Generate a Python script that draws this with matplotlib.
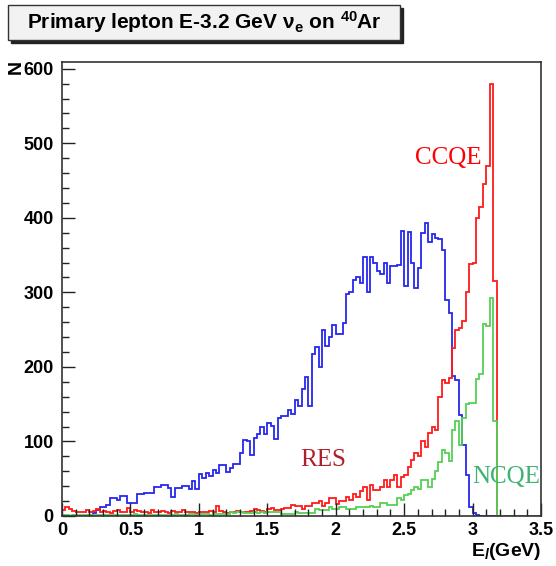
import numpy as np
import matplotlib
matplotlib.use("Agg")
import matplotlib.pyplot as plt
from matplotlib.patches import Rectangle

plt.rcParams['font.family'] = ['Liberation Sans', 'DejaVu Sans']
plt.rcParams['mathtext.fontset'] = 'custom'
plt.rcParams['mathtext.rm'] = 'Liberation Sans:bold'
plt.rcParams['mathtext.it'] = 'Liberation Sans:bold:italic'
plt.rcParams['mathtext.bf'] = 'Liberation Sans:bold'

# histogram range and bins (E_l in GeV)
e_min, e_max, n_bins = 0.0, 3.5, 140

# counts per bin
res = [0, 0, 0, 0, 0, 0, 0, 0, 1, 4,
       8, 12, 12, 15, 24, 24, 21, 27, 27, 18,
       18, 18, 30, 30, 31, 31, 31, 39, 39, 42,
       42, 37, 26, 37, 37, 40, 40, 36, 47, 36,
       57, 51, 58, 54, 62, 58, 69, 69, 59, 65,
       70, 70, 84, 102, 100, 82, 105, 110, 120, 110,
       125, 121, 103, 131, 134, 134, 142, 137, 155, 148,
       170, 186, 148, 217, 227, 200, 249, 228, 240, 256,
       244, 244, 259, 298, 300, 316, 321, 313, 347, 301,
       348, 340, 328, 324, 340, 312, 335, 335, 337, 382,
       309, 381, 339, 306, 333, 380, 393, 368, 378, 373,
       371, 357, 290, 272, 188, 183, 135, 95, 55, 12,
       4, 1, 0, 0, 0, 0, 0, 0, 0, 0,
       0, 0, 0, 0, 0, 0, 0, 0, 0, 0]

ccqe = [8, 12, 10, 7, 6, 6, 5, 8, 6, 7,
        10, 6, 7, 5, 4, 7, 8, 6, 5, 11,
        6, 8, 7, 6, 5, 4, 8, 6, 5, 7,
        6, 4, 7, 5, 5, 8, 6, 5, 6, 4,
        6, 5, 6, 7, 6, 14, 7, 5, 4, 5,
        6, 7, 5, 6, 6, 7, 10, 8, 7, 6,
        9, 11, 8, 8, 10, 11, 11, 15, 13, 14,
        10, 13, 13, 17, 17, 20, 14, 17, 24, 24,
        16, 20, 20, 26, 22, 30, 26, 33, 39, 21,
        41, 35, 35, 39, 48, 39, 48, 55, 39, 52,
        55, 66, 75, 85, 80, 100, 92, 112, 120, 115,
        160, 183, 178, 185, 226, 250, 252, 262, 300, 338,
        340, 400, 415, 446, 470, 580, 315, 0, 0, 0,
        0, 0, 0, 0, 0, 0, 0, 0, 0, 0]

ncqe = [1, 1, 0, 1, 1, 1, 1, 1, 1, 1,
        1, 1, 1, 2, 1, 1, 1, 1, 2, 2,
        2, 3, 2, 2, 1, 2, 2, 2, 2, 2,
        2, 2, 2, 3, 2, 2, 2, 3, 3, 2,
        3, 3, 3, 2, 3, 3, 3, 3, 3, 6,
        4, 6, 5, 4, 4, 4, 5, 4, 6, 4,
        5, 6, 5, 6, 3, 3, 3, 3, 5, 4,
        4, 4, 4, 4, 10, 8, 8, 8, 12, 10,
        10, 12, 12, 10, 10, 10, 12, 12, 12, 12,
        14, 12, 12, 17, 17, 15, 15, 15, 24, 22,
        28, 30, 35, 39, 36, 48, 48, 39, 50, 61,
        72, 88, 84, 74, 115, 128, 95, 132, 150, 152,
        152, 184, 190, 257, 255, 292, 128, 0, 0, 0,
        0, 0, 0, 0, 0, 0, 0, 0, 0, 0]

edges = np.linspace(e_min, e_max, n_bins + 1)

fig = plt.figure(figsize=(5.56, 5.66), dpi=100)
ax = fig.add_axes([62/556, 1 - 516/566, 479/556, 454/566])

ax.stairs(res, edges, baseline=0, color='#2626ee', lw=1.3)
ax.stairs(ccqe, edges, baseline=0, color='#ff1a1a', lw=1.3)
ax.stairs(ncqe, edges, baseline=0, color='#55d055', lw=1.3)

ax.set_xlim(e_min, e_max)
ax.set_ylim(0, max(ccqe) * 1.05)
ax.set_xticks(np.arange(0, 3.51, 0.5))
ax.set_xticks(np.arange(0, 3.51, 0.1), minor=True)
ax.set_yticks(np.arange(0, 601, 100))
ax.set_yticks(np.arange(0, 601, 20), minor=True)
ax.set_xticklabels(['0', '0.5', '1', '1.5', '2', '2.5', '3', '3.5'])
ax.tick_params(which='both', direction='in', width=1, colors='#222222')
ax.tick_params(which='major', length=9.5)
ax.tick_params(which='minor', length=4.8)
ax.tick_params(axis='x', pad=4)
ax.tick_params(axis='y', pad=6)
for lab in ax.get_xticklabels() + ax.get_yticklabels():
    lab.set_fontsize(13)
    lab.set_fontweight('bold')
    lab.set_color('black')
for s in ax.spines.values():
    s.set_linewidth(1.2)
    s.set_color('#333333')

# axis titles, ROOT style
fig.text(541/556, 1 - 552/566, r'E$_{l}$(GeV)', ha='right', va='center',
         fontsize=14, fontweight='bold')
fig.text(16/556, 1 - 60/566, 'N', ha='center', va='top', rotation=90,
         fontsize=14, fontweight='bold')

# channel labels
ax.text(2.58, 480, 'CCQE', color='#ff0000', fontsize=18,
        family='Liberation Serif', va='center', ha='left')
ax.text(1.74, 75, 'RES', color='#b0202a', fontsize=18,
        family='Liberation Serif', va='center', ha='left')
ax.text(3.0, 52, 'NCQE', color='#3cb371', fontsize=18,
        family='Liberation Serif', va='center', ha='left', clip_on=False)

# title box with drop shadow
bx, by, bw, bh = 8/556, 1 - 40/566, 392/556, 35/566
fig.patches.append(Rectangle((bx + 3/556, by - 3/566), bw, bh,
                             transform=fig.transFigure, color='#222222', zorder=1))
fig.patches.append(Rectangle((bx, by), bw, bh, transform=fig.transFigure,
                             facecolor='#f2f2f2', edgecolor='#333333', lw=1, zorder=2))
fig.text(bx + bw / 2, by + bh / 2,
         r'Primary lepton E-3.2 GeV $\mathrm{\nu_{e}}$ on $^{40}$Ar',
         ha='center', va='center', fontsize=15, fontweight='bold', zorder=3)

fig.savefig('out.png', dpi=100)
